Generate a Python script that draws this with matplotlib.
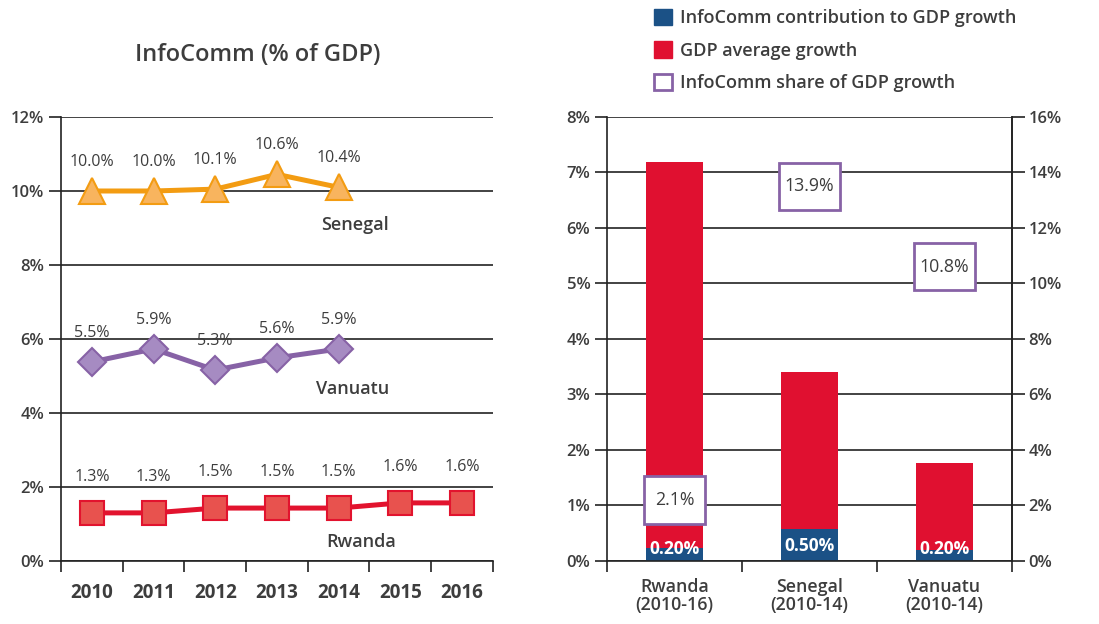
import matplotlib
matplotlib.use('Agg')
import matplotlib.pyplot as plt
from matplotlib.patches import Patch, Rectangle
from matplotlib.ticker import FuncFormatter

plt.rcParams['font.family'] = ['Open Sans', 'DejaVu Sans']

# Datos - grafico de lineas (InfoComm % del PIB)
years = ['2010', '2011', '2012', '2013', '2014', '2015', '2016']
senegal = [10.0, 10.0, 10.05, 10.45, 10.1]
senegal_lbl = ['10.0%', '10.0%', '10.1%', '10.6%', '10.4%']
vanuatu = [5.38, 5.73, 5.16, 5.49, 5.73]
vanuatu_lbl = ['5.5%', '5.9%', '5.3%', '5.6%', '5.9%']
rwanda = [1.3, 1.3, 1.43, 1.43, 1.43, 1.57, 1.57]
rwanda_lbl = ['1.3%', '1.3%', '1.5%', '1.5%', '1.5%', '1.6%', '1.6%']

# Datos - grafico de barras
countries = ['Rwanda\n(2010-16)', 'Senegal\n(2010-14)', 'Vanuatu\n(2010-14)']
gdp_growth = [7.19, 3.41, 1.77]
infocomm_contrib = [0.24, 0.58, 0.20]
contrib_lbl = ['0.20%', '0.50%', '0.20%']
share = [2.2, 13.5, 10.6]
share_lbl = ['2.1%', '13.9%', '10.8%']

TXT = '#3d3d3d'
ORANGE, ORANGE_F = '#F39C12', '#F8B45E'
PURPLE, PURPLE_F = '#8762A6', '#A68BC2'
RED, RED_F = '#E2132E', '#E8524E'
BAR_RED, BAR_BLUE = '#E01030', '#1B5186'
pct = FuncFormatter(lambda v, p: f'{v:.0f}%')

fig = plt.figure(figsize=(10.99, 6.24), dpi=100)
ax1 = fig.add_axes([0.0555, 0.101, 0.393, 0.7115])
ax2 = fig.add_axes([0.5523, 0.101, 0.3685, 0.7115])

# ---- Grafico izquierdo ----
x_all = list(range(len(years)))
ax1.plot(x_all[:5], senegal, color=ORANGE, lw=3.6, marker='^', ms=18.5,
         mfc=ORANGE_F, mec=ORANGE, mew=1.5, zorder=3)
ax1.plot(x_all[:5], vanuatu, color=PURPLE, lw=3.6, marker='D', ms=14,
         mfc=PURPLE_F, mec=PURPLE, mew=1.5, zorder=3)
ax1.plot(x_all, rwanda, color=RED, lw=3.6, marker='s', ms=17,
         mfc=RED_F, mec=RED, mew=1.5, zorder=3)

for vals, lbls, off in [(senegal, senegal_lbl, 21), (vanuatu, vanuatu_lbl, 21),
                        (rwanda, rwanda_lbl, 26)]:
    for i, (v, t) in enumerate(zip(vals, lbls)):
        ax1.annotate(t, (i, v), xytext=(0, off), textcoords='offset points',
                     ha='center', va='center', fontsize=11.5, color=TXT)

ax1.text(4.26, 9.08, 'Senegal', ha='center', va='center', fontsize=13, color=TXT, fontweight='semibold')
ax1.text(4.22, 4.65, 'Vanuatu', ha='center', va='center', fontsize=13, color=TXT, fontweight='semibold')
ax1.text(4.37, 0.51, 'Rwanda', ha='center', va='center', fontsize=13, color=TXT, fontweight='semibold')

ax1.set_xlim(-0.5, 6.5)
ax1.set_ylim(0, 12)
ax1.set_yticks(range(0, 13, 2))
ax1.yaxis.set_major_formatter(pct)
ax1.set_xticks(x_all)
ax1.set_xticklabels(years, fontsize=13.5, fontweight='bold', color=TXT)
ax1.set_xticks([i - 0.5 for i in range(8)], minor=True)
ax1.tick_params(axis='x', which='major', length=0, pad=16)
ax1.tick_params(axis='x', which='minor', length=8, width=1.2, color='#222222')
ax1.tick_params(axis='y', length=9, width=1.2, color='#222222', labelsize=12,
                labelcolor=TXT, pad=3)
ax1.grid(axis='y', color='#222222', lw=1.2, zorder=0)
for s in ['top', 'right']:
    ax1.spines[s].set_visible(False)
for s in ['left', 'bottom']:
    ax1.spines[s].set_color('#222222')
    ax1.spines[s].set_linewidth(1.2)
for lab in ax1.get_yticklabels():
    lab.set_fontweight('semibold')

fig.text(0.2348, 0.912, 'InfoComm (% of GDP)', ha='center', va='center',
         fontsize=17, color=TXT, fontweight='semibold')

# ---- Grafico derecho ----
xb = list(range(len(countries)))
bw = 0.42
ax2.bar(xb, gdp_growth, width=bw, color=BAR_RED, zorder=2)
ax2.bar(xb, infocomm_contrib, width=bw, color=BAR_BLUE, zorder=2)
for i, t in enumerate(contrib_lbl):
    ax2.text(i, 0.22 if i != 1 else 0.27, t, ha='center', va='center', fontsize=12.5,
             color='white', fontweight='bold', zorder=4)

ax2.set_xlim(-0.5, 2.5)
ax2.set_ylim(0, 8)
ax2.set_yticks(range(0, 9))
ax2.yaxis.set_major_formatter(pct)
ax2.set_xticks(xb)
ax2.set_xticklabels(countries, fontsize=12.8, color=TXT, fontweight='semibold',
                    linespacing=1.0)
ax2.set_xticks([-0.5, 0.5, 1.5, 2.5], minor=True)
ax2.tick_params(axis='x', which='major', length=0, pad=12)
ax2.tick_params(axis='x', which='minor', length=8, width=1.2, color='#222222')
ax2.tick_params(axis='y', length=9, width=1.2, color='#222222', labelsize=12,
                labelcolor=TXT, pad=3)
ax2.grid(axis='y', color='#222222', lw=1.2, zorder=0)
ax2.spines['top'].set_visible(False)
for s in ['left', 'bottom', 'right']:
    ax2.spines[s].set_color('#222222')
    ax2.spines[s].set_linewidth(1.2)

ax3 = ax2.twinx()
ax3.set_ylim(0, 16)
ax3.set_yticks(range(0, 17, 2))
ax3.yaxis.set_major_formatter(pct)
ax3.tick_params(axis='y', length=9, width=1.2, color='#222222', labelsize=12,
                labelcolor=TXT, pad=3)
for s in ['top', 'left', 'bottom']:
    ax3.spines[s].set_visible(False)
ax3.spines['right'].set_color('#222222')
ax3.spines['right'].set_linewidth(1.2)
for i, (v, t) in enumerate(zip(share, share_lbl)):
    ax3.add_patch(Rectangle((i - 0.225, v - 0.85), 0.45, 1.7, facecolor='white',
                            edgecolor=PURPLE, lw=2, zorder=5))
    ax3.text(i, v, t, ha='center', va='center', fontsize=12.8, color=TXT, zorder=6)
for lab in ax2.get_yticklabels() + ax3.get_yticklabels():
    lab.set_fontweight('semibold')

# Leyenda
handles = [Patch(facecolor=BAR_BLUE, edgecolor=BAR_BLUE),
           Patch(facecolor=BAR_RED, edgecolor=BAR_RED),
           Patch(facecolor='white', edgecolor=PURPLE, lw=2)]
labels = ['InfoComm contribution to GDP growth', 'GDP average growth',
          'InfoComm share of GDP growth']
leg = fig.legend(handles, labels, loc='upper left', bbox_to_anchor=(0.587, 1.0),
                 frameon=False, fontsize=13, handlelength=1.0, handleheight=1.0,
                 labelspacing=0.78, handletextpad=0.45, borderaxespad=0.1)
for t in leg.get_texts():
    t.set_color(TXT)
    t.set_fontweight('semibold')

fig.savefig('out.png', dpi=100)
